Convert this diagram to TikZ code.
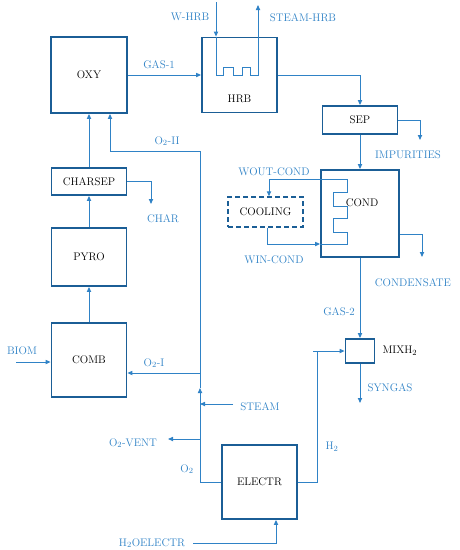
\documentclass[tikz,border=0pt]{standalone}
\usetikzlibrary{positioning,arrows.meta}
\definecolor{boxblue}{HTML}{1B5E96}
\definecolor{flowblue}{HTML}{2F82C6}

\begin{document}
\begin{tikzpicture}[x=1pt, y=-1pt, >={Triangle[length=5pt,width=4.2pt]},
  font=\fontsize{11}{13}\selectfont,
  unit/.style={draw=boxblue, line width=1.8pt, minimum width=75pt, inner sep=1pt},
  flow/.style={draw=flowblue, line width=1pt},
  lbl/.style={text=flowblue, inner sep=1pt}]
  \useasboundingbox (0,0) rectangle (460,550);

  % units
  \node[unit, minimum width=76pt, minimum height=76pt] (oxy) at (89,75) {OXY};
  \node[unit, minimum height=75pt, label={[anchor=center, yshift=15pt]south:HRB}] (hrb) at (239.5,75) {};
  \node[unit, minimum height=28pt] (sep) at (360,120) {SEP};
  \node[unit, minimum width=78pt, minimum height=87pt, label={[anchor=center, xshift=2pt, yshift=10.5pt]center:COND}] (cond) at (360,213.5) {};
  \node[unit, line width=1.3pt, dashed, dash pattern=on 5pt off 3pt, minimum height=30pt] (cooling) at (265.5,212) {COOLING};
  \node[unit, minimum height=27pt] (charsep) at (89,181.5) {CHARSEP};
  \node[unit, minimum height=58pt] (pyro) at (89,257) {PYRO};
  \node[unit, minimum height=74pt] (comb) at (89,360) {COMB};
  \node[unit, minimum height=74pt] (electr) at (259.5,482) {ELECTR};
  \node[unit, minimum width=29pt, minimum height=24pt] (mix) at (360,351) {};
  \node[right=6pt of mix, inner sep=1pt] (mixlbl) {MIXH$_2$};

  % free ends
  \coordinate (whrb) at (216,2);
  \coordinate (steamhrb) at (258,5);
  \coordinate (imp) at (420,140);
  \coordinate (cnd) at (422,257);
  \coordinate (syn) at (360,403);
  \coordinate (char) at (151,204);
  \coordinate (biom) at (16,362);
  \coordinate (h2bend) at (317,482);
  \coordinate (o2up) at (200,388);
  \coordinate (o2top) at (200,151);
  \coordinate (o2i) at (200,373);
  \coordinate (steam) at (233,404);
  \coordinate (vent) at (168,439);
  \coordinate (h2o) at (193,543);
  \coordinate (coilin) at (347,244);

  % main train
  \draw[flow,->] (comb) -- (pyro);
  \draw[flow,->] (pyro) -- (charsep);
  \draw[flow,->] (charsep) -- (oxy);
  \draw[flow,->] (charsep.east) -| (char);
  \draw[flow,->] (biom) -- (comb.west |- biom);
  \draw[flow,->] (oxy) -- (hrb);
  \draw[flow,->] (hrb.east) -| (sep.north);
  \draw[flow,->] (sep.east) -| (imp);
  \draw[flow,->] (sep) -- (cond);
  \draw[flow,->] (cond.east) ++(0,20.5) -| (cnd);
  \draw[flow,->] (cond) -- (mix);
  \draw[flow,->] (mix) -- (syn);

  % heat recovery coil
  \draw[flow,->] (whrb) -- (whrb |- hrb.north);
  \draw[flow,->] (whrb |- hrb.north) -- (216,75) -- ++(7,0) -- ++(0,-8) -- ++(10,0) -- ++(0,8)
    -- ++(9,0) -- ++(0,-8) -- ++(8,0) -- ++(0,8) -- ++(8,0) -- (steamhrb);

  % cooling water loop
  \draw[flow,->] ([xshift=1.5pt]cooling.south) |- (cond.west |- coilin);
  \draw[flow,->] (cond.west |- coilin) -- (coilin) -- ++(0,-12) -- ++(-14,0) -- ++(0,-14) -- ++(14,0)
    -- ++(0,-12) -- ++(-14,0) -- ++(0,-14) -- ++(14,0) -- (347,179) -| ([xshift=3.5pt]cooling.north);

  % electrolysis
  \draw[flow,->] (h2o) -| ([xshift=16.5pt]electr.south);
  \draw[flow,->] (electr.east) -- (h2bend) |- (mix.west);
  \draw[flow] (h2bend |- mix.west) -- ++(-4,0);
  \draw[flow,->] (electr.west) -| (o2up);
  \draw[flow,->] (o2up) -- (o2top) -| ([xshift=21pt]oxy.south);
  \draw[flow,->] (o2i) -- (comb.east |- o2i);
  \draw[flow,->] (steam) -- (o2i |- steam);
  \draw[flow,->] (o2i |- vent) -- (vent);

  % stream labels
  \node[lbl] at (190,17) {W-HRB};
  \node[lbl] at (303,18) {STEAM-HRB};
  \node[lbl] at (159,65) {GAS-1};
  \node[lbl] at (167,141) {O$_2$-II};
  \node[lbl] at (408,155) {IMPURITIES};
  \node[lbl] at (274,172) {WOUT-COND};
  \node[lbl] at (274,260) {WIN-COND};
  \node[lbl] at (413,283) {CONDENSATE};
  \node[lbl] at (163,219) {CHAR};
  \node[lbl] at (22,351) {BIOM};
  \node[lbl] at (154,363) {O$_2$-I};
  \node[lbl] at (339,312) {GAS-2};
  \node[lbl] at (390,388) {SYNGAS};
  \node[lbl] at (260,407) {STEAM};
  \node[lbl] at (133,443) {O$_2$-VENT};
  \node[lbl] at (187,469) {O$_2$};
  \node[lbl] at (332,447) {H$_2$};
  \node[lbl] at (152,543) {H$_2$OELECTR};
\end{tikzpicture}
\end{document}
